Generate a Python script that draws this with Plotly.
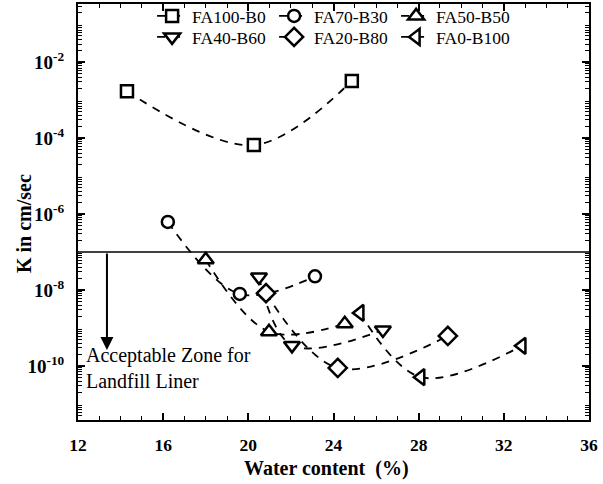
import numpy as np
import plotly.graph_objects as go

# Hydraulic conductivity vs. water content for fly ash / bentonite blends
fa100_b0_w = [14.3, 20.26, 24.86]
fa100_b0_k = [1.7e-3, 6.6e-5, 3.2e-3]

fa70_b30_w = [16.22, 19.6, 23.13]
fa70_b30_k = [6.2e-7, 7.9e-9, 2.3e-8]

fa50_b50_w = [18.0, 20.97, 24.53]
fa50_b50_k = [6.3e-8, 8.0e-10, 1.3e-9]

fa40_b60_w = [20.5, 22.05, 26.32]
fa40_b60_k = [2.2e-8, 3.5e-10, 8.9e-10]

fa20_b80_w = [20.83, 24.2, 29.37]
fa20_b80_k = [8.3e-9, 8.9e-11, 6.2e-10]

fa0_b100_w = [25.24, 28.1, 32.85]
fa0_b100_k = [2.5e-9, 5.1e-11, 3.4e-10]

liner_limit_k = 1e-7

x_ticks = [12, 16, 20, 24, 28, 32, 36]
y_label_decades = [-10, -8, -6, -4, -2]
y_odd_decades = [-11, -9, -7, -5, -3, -1]

SERIF = "Liberation Serif"

# plot area in pixels (figure is 603 x 484)
L, R, T, B = 78, 14, 4, 64
PW, PH = 603 - L - R, 484 - T - B


def px_to_paper(px, py):
    return (px - L) / PW, (484 - B - py) / PH


series = [
    ("FA100-B0", fa100_b0_w, fa100_b0_k, "square", 12, "legend"),
    ("FA70-B30", fa70_b30_w, fa70_b30_k, "circle", 12, "legend"),
    ("FA50-B50", fa50_b50_w, fa50_b50_k, "triangle-up", 14, "legend"),
    ("FA40-B60", fa40_b60_w, fa40_b60_k, "triangle-down", 14, "legend2"),
    ("FA20-B80", fa20_b80_w, fa20_b80_k, "diamond", 14, "legend2"),
    ("FA0-B100", fa0_b100_w, fa0_b100_k, "triangle-left", 14, "legend2"),
]

fig = go.Figure()

# acceptable-limit line for landfill liners
fig.add_trace(go.Scatter(
    x=[12, 36], y=[liner_limit_k, liner_limit_k], mode="lines",
    line=dict(color="black", width=1.5), showlegend=False, hoverinfo="skip",
))

for name, w, k, sym, size, leg in series:
    fig.add_trace(go.Scatter(
        x=w, y=k, name=name, mode="lines+markers", legend=leg,
        line=dict(color="black", width=1.8, dash="8px,7px", shape="spline"),
        marker=dict(symbol=sym, size=size, color="white",
                    line=dict(color="black", width=2.5)),
    ))

# arrow pointing into the acceptable zone
fig.add_annotation(
    x=13.36, y=-9.58, ax=13.36, ay=np.log10(liner_limit_k),
    xref="x", yref="y", axref="x", ayref="y",
    showarrow=True, arrowhead=2, arrowsize=1.3, arrowwidth=2,
    arrowcolor="black", text="",
)
fig.add_annotation(
    x=12.3, y=-10.05, xref="x", yref="y", xanchor="left", yanchor="middle",
    text="Acceptable Zone for<br>Landfill Liner", showarrow=False, align="left",
    font=dict(family=SERIF, size=20, color="black"),
)

# axis titles
tx, ty = px_to_paper(24, 224)
fig.add_annotation(
    x=tx, y=ty, xref="paper", yref="paper", xanchor="center", yanchor="middle",
    text="K in cm/sec", textangle=-90, showarrow=False,
    font=dict(family=SERIF, size=20, color="black", weight="bold"),
)
tx, ty = px_to_paper(326, 469)
fig.add_annotation(
    x=tx, y=ty, xref="paper", yref="paper", xanchor="center", yanchor="middle",
    text="Water content\u00a0 (%)", showarrow=False,
    font=dict(family=SERIF, size=20, color="black", weight="bold"),
)

minor_y = [m * 10.0 ** e for e in range(-12, 0) for m in range(2, 10)]
y_range = [-11.42, -0.47]

fig.update_xaxes(
    range=[12, 36], tickvals=x_ticks, ticktext=[str(t) for t in x_ticks],
    ticks="inside", ticklen=7, tickwidth=1.5, tickcolor="black",
    showline=True, linecolor="black", linewidth=2, mirror="allticks",
    showgrid=False, zeroline=False, ticklabelstandoff=8,
    tickfont=dict(family=SERIF, size=17.5, color="black", weight="bold"),
    minor=dict(dtick=1, ticks="inside", ticklen=4, tickwidth=1.2, tickcolor="black", showgrid=False),
)
fig.update_yaxes(
    type="log", range=y_range,
    tickvals=[10.0 ** e for e in y_label_decades],
    ticktext=[f"10<sup>{e}</sup>" for e in y_label_decades],
    ticks="inside", ticklen=7, tickwidth=1.5, tickcolor="black",
    showline=True, linecolor="black", linewidth=2, mirror="allticks",
    showgrid=False, zeroline=False, ticklabelstandoff=8,
    tickfont=dict(family=SERIF, size=19, color="black", weight="bold"),
    minor=dict(tickvals=minor_y, ticks="inside", ticklen=4, tickwidth=1, tickcolor="black", showgrid=False),
)

legend_style = dict(
    orientation="h", xanchor="left", yanchor="top", x=0.145,
    bgcolor="rgba(0,0,0,0)", entrywidth=77, entrywidthmode="pixels",
    font=dict(family=SERIF, size=17.5, color="black"), tracegroupgap=0,
    itemwidth=30,
)
fig.update_layout(
    width=603, height=484,
    margin=dict(l=L, r=R, t=T, b=B, autoexpand=False),
    paper_bgcolor="white", plot_bgcolor="white",
    legend=dict(**legend_style, y=1.0 + 6 / PH),
    legend2=dict(**legend_style, y=1.0 - 15 / PH),
    # unlabeled full-length ticks at the odd decades
    yaxis2=dict(
        type="log", range=y_range, overlaying="y", side="left",
        tickvals=[10.0 ** e for e in y_odd_decades], showticklabels=False,
        ticks="inside", ticklen=7, tickwidth=1.5, tickcolor="black",
        showline=False, showgrid=False, zeroline=False, mirror="allticks",
    ),
)

fig.write_html("out.html")
